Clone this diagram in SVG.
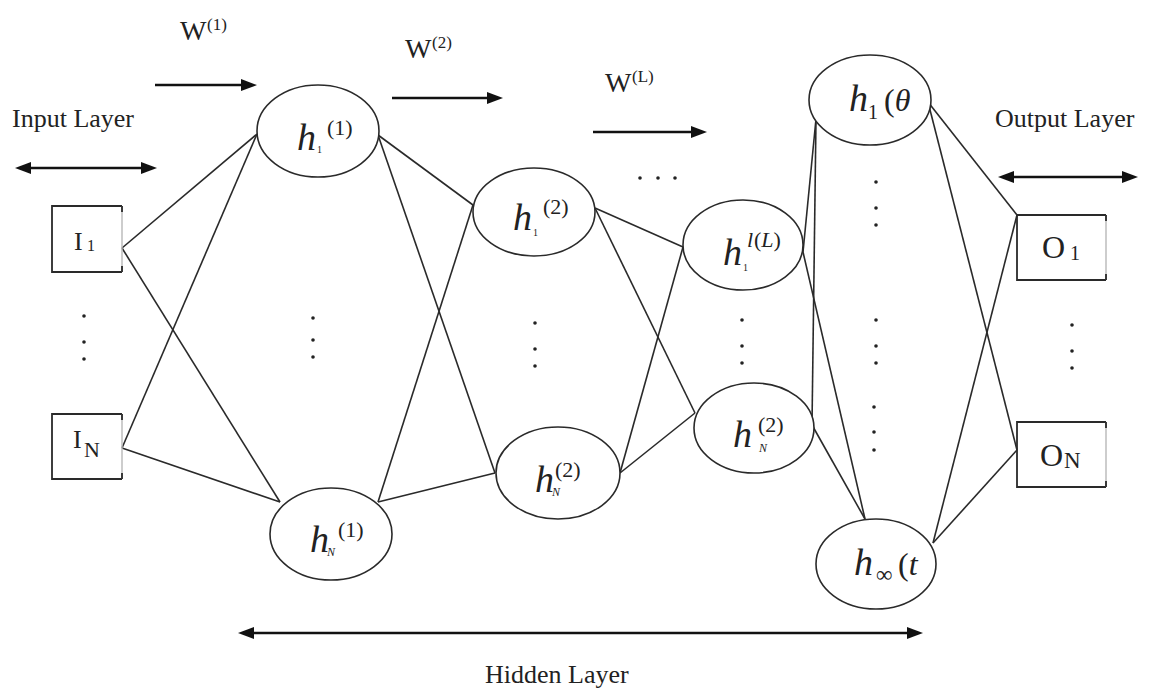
<svg xmlns="http://www.w3.org/2000/svg" width="1152" height="688" viewBox="0 0 1152 688">
  <style>
    .edge{stroke:#2a2a2a;stroke-width:1.6;fill:none}
    .node{fill:#fff;stroke:#2a2a2a;stroke-width:1.6}
    .box{fill:none;stroke:#2a2a2a;stroke-width:1.8}
    .boxr{stroke:#b8b8b8;stroke-width:1.4}
    .arrow{stroke:#111;stroke-width:2.6;fill:none}
    .t{font-family:"Liberation Serif","Times New Roman",serif;fill:#222}
    .mi{font-family:"Liberation Serif","Times New Roman",serif;font-style:italic;fill:#222}
    .dot{fill:#222}
  </style>
  <defs>
    <marker id="head" viewBox="0 0 16 12" refX="4" refY="6" markerWidth="16" markerHeight="12" markerUnits="userSpaceOnUse" orient="auto-start-reverse">
      <path d="M0,0 L16,6 L0,12 z" fill="#111"/>
    </marker>
  </defs>
  <rect width="1152" height="688" fill="#fff"/>

  <!-- weight / layer arrows -->
  <g id="arrows">
    <line class="arrow" x1="155" y1="85" x2="245" y2="85" marker-end="url(#head)"/>
    <line class="arrow" x1="392" y1="98" x2="491" y2="98" marker-end="url(#head)"/>
    <line class="arrow" x1="593" y1="132" x2="695" y2="132" marker-end="url(#head)"/>
    <line class="arrow" x1="27" y1="168" x2="145" y2="168" marker-start="url(#head)" marker-end="url(#head)"/>
    <line class="arrow" x1="1010" y1="177" x2="1126" y2="177" marker-start="url(#head)" marker-end="url(#head)"/>
    <line class="arrow" x1="250" y1="633" x2="911" y2="633" marker-start="url(#head)" marker-end="url(#head)"/>
  </g>

  <!-- labels -->
  <g id="labels">
    <text class="t" x="180" y="40" font-size="28">W</text>
    <text class="t" x="207" y="30" font-size="17">(1)</text>
    <text class="t" x="405" y="58" font-size="28">W</text>
    <text class="t" x="432" y="48" font-size="17">(2)</text>
    <text class="t" x="605" y="92" font-size="28">W</text>
    <text class="t" x="632" y="82" font-size="17">(L)</text>
    <text class="t" x="12" y="127" font-size="26">Input Layer</text>
    <text class="t" x="995" y="127" font-size="26">Output Layer</text>
    <text class="t" x="485" y="683" font-size="26">Hidden Layer</text>
  </g>

  <!-- connections between layers -->
  <g id="connectors">
    <line class="edge" x1="122" y1="248" x2="257" y2="134"/>
    <line class="edge" x1="122" y1="248" x2="280" y2="502"/>
    <line class="edge" x1="122" y1="448" x2="257" y2="134"/>
    <line class="edge" x1="122" y1="448" x2="280" y2="502"/>

    <line class="edge" x1="378" y1="135" x2="473" y2="205"/>
    <line class="edge" x1="378" y1="135" x2="495" y2="473"/>
    <line class="edge" x1="378" y1="502" x2="473" y2="205"/>
    <line class="edge" x1="378" y1="502" x2="495" y2="473"/>

    <line class="edge" x1="595" y1="208" x2="683" y2="247"/>
    <line class="edge" x1="595" y1="208" x2="695" y2="413"/>
    <line class="edge" x1="620" y1="473" x2="683" y2="247"/>
    <line class="edge" x1="620" y1="473" x2="695" y2="413"/>

    <line class="edge" x1="803" y1="252" x2="816" y2="119"/>
    <line class="edge" x1="803" y1="252" x2="865" y2="519"/>
    <line class="edge" x1="812" y1="425" x2="816" y2="119"/>
    <line class="edge" x1="812" y1="425" x2="865" y2="519"/>

    <line class="edge" x1="928" y1="102" x2="1017" y2="215"/>
    <line class="edge" x1="928" y1="102" x2="1017" y2="450"/>
    <line class="edge" x1="933" y1="543" x2="1017" y2="215"/>
    <line class="edge" x1="933" y1="543" x2="1017" y2="450"/>
  </g>

  <!-- input nodes -->
  <g id="in-1">
    <path class="box" d="M122,206 H52 V272 H122"/>
    <line class="boxr" x1="122" y1="206" x2="122" y2="272"/>
    <path class="box" d="M122,206 v6 M122,272 v-6"/>
    <text class="t" x="74" y="250" font-size="26">I</text>
    <text class="t" x="87" y="251" font-size="16">1</text>
  </g>
  <g id="in-n">
    <path class="box" d="M122,414 H52 V479 H122"/>
    <line class="boxr" x1="122" y1="414" x2="122" y2="479"/>
    <path class="box" d="M122,414 v6 M122,479 v-6"/>
    <text class="t" x="73" y="448" font-size="26">I</text>
    <text class="t" x="84" y="457" font-size="22">N</text>
  </g>
  <g id="in-dots">
    <circle class="dot" cx="84" cy="316" r="1.8"/>
    <circle class="dot" cx="84" cy="342" r="1.8"/>
    <circle class="dot" cx="84" cy="359" r="1.8"/>
  </g>

  <!-- hidden layer 1 -->
  <g id="h1-1">
    <ellipse class="node" cx="318" cy="131" rx="61" ry="46"/>
    <text class="mi" x="297" y="150" font-size="38">h</text>
    <text class="t" x="317" y="153" font-size="10">1</text>
    <text class="t" x="327" y="135" font-size="22">(1)</text>
  </g>
  <g id="h1-n">
    <ellipse class="node" cx="331" cy="534" rx="61" ry="46"/>
    <text class="mi" x="310" y="552" font-size="38">h</text>
    <text class="mi" x="327" y="556" font-size="12">N</text>
    <text class="t" x="338" y="537" font-size="22">(1)</text>
  </g>
  <g id="h1-dots">
    <circle class="dot" cx="313" cy="318" r="1.8"/>
    <circle class="dot" cx="313" cy="340" r="1.8"/>
    <circle class="dot" cx="313" cy="357" r="1.8"/>
  </g>

  <!-- hidden layer 2 -->
  <g id="h2-1">
    <ellipse class="node" cx="534" cy="212" rx="61" ry="44"/>
    <text class="mi" x="513" y="230" font-size="38">h</text>
    <text class="t" x="533" y="236" font-size="10">1</text>
    <text class="t" x="543" y="214" font-size="22">(2)</text>
  </g>
  <g id="h2-n">
    <ellipse class="node" cx="558" cy="473" rx="62" ry="46"/>
    <text class="mi" x="535" y="492" font-size="38">h</text>
    <text class="mi" x="552" y="496" font-size="12">N</text>
    <text class="t" x="555" y="477" font-size="22">(2)</text>
  </g>
  <g id="h2-dots">
    <circle class="dot" cx="535" cy="323" r="1.8"/>
    <circle class="dot" cx="535" cy="349" r="1.8"/>
    <circle class="dot" cx="535" cy="366" r="1.8"/>
  </g>

  <!-- hidden layer L -->
  <g id="hL-1">
    <ellipse class="node" cx="743" cy="245" rx="60" ry="45"/>
    <text class="mi" x="723" y="265" font-size="38">h</text>
    <text class="t" x="743" y="271" font-size="10">1</text>
    <text class="mi" x="747" y="247" font-size="22">l</text>
    <text class="t" x="754" y="247" font-size="22">(<tspan font-style="italic">L</tspan>)</text>
  </g>
  <g id="hL-n">
    <ellipse class="node" cx="754" cy="428" rx="60" ry="45"/>
    <text class="mi" x="733" y="447" font-size="38">h</text>
    <text class="mi" x="759" y="452" font-size="12">N</text>
    <text class="t" x="758" y="432" font-size="22">(2)</text>
  </g>
  <g id="hL-dots">
    <circle class="dot" cx="742" cy="320" r="1.8"/>
    <circle class="dot" cx="742" cy="346" r="1.8"/>
    <circle class="dot" cx="742" cy="363" r="1.8"/>
    <circle class="dot" cx="640" cy="178" r="1.8"/>
    <circle class="dot" cx="658" cy="178" r="1.8"/>
    <circle class="dot" cx="675" cy="178" r="1.8"/>
  </g>

  <!-- final feature layer -->
  <g id="hf-1">
    <ellipse class="node" cx="870" cy="100" rx="61" ry="45"/>
    <text class="mi" x="849" y="111" font-size="38">h</text>
    <text class="t" x="868" y="119" font-size="20">1</text>
    <text class="t" x="884" y="111" font-size="32">(<tspan font-style="italic">θ</tspan></text>
  </g>
  <g id="hf-inf">
    <ellipse class="node" cx="876" cy="564" rx="60" ry="45"/>
    <text class="mi" x="854" y="575" font-size="38">h</text>
    <text class="t" x="876" y="582" font-size="23">∞</text>
    <text class="t" x="898" y="575" font-size="32">(<tspan font-style="italic">t</tspan></text>
  </g>
  <g id="hf-dots">
    <circle class="dot" cx="876" cy="182" r="1.8"/>
    <circle class="dot" cx="876" cy="208" r="1.8"/>
    <circle class="dot" cx="876" cy="225" r="1.8"/>
    <circle class="dot" cx="876" cy="320" r="1.8"/>
    <circle class="dot" cx="876" cy="346" r="1.8"/>
    <circle class="dot" cx="876" cy="363" r="1.8"/>
    <circle class="dot" cx="874" cy="407" r="1.8"/>
    <circle class="dot" cx="874" cy="432" r="1.8"/>
    <circle class="dot" cx="874" cy="450" r="1.8"/>
  </g>

  <!-- output nodes -->
  <g id="out-1">
    <path class="box" d="M1106,215 H1017 V280 H1106"/>
    <line class="boxr" x1="1106" y1="215" x2="1106" y2="280"/>
    <path class="box" d="M1106,215 v6 M1106,280 v-6"/>
    <text class="t" x="1042" y="258" font-size="32">O</text>
    <text class="t" x="1070" y="260" font-size="20">1</text>
  </g>
  <g id="out-n">
    <path class="box" d="M1106,422 H1017 V487 H1106"/>
    <line class="boxr" x1="1106" y1="422" x2="1106" y2="487"/>
    <path class="box" d="M1106,422 v6 M1106,487 v-6"/>
    <text class="t" x="1040" y="466" font-size="32">O</text>
    <text class="t" x="1064" y="468" font-size="23">N</text>
  </g>
  <g id="out-dots">
    <circle class="dot" cx="1072" cy="325" r="1.8"/>
    <circle class="dot" cx="1072" cy="351" r="1.8"/>
    <circle class="dot" cx="1072" cy="368" r="1.8"/>
  </g>
</svg>
